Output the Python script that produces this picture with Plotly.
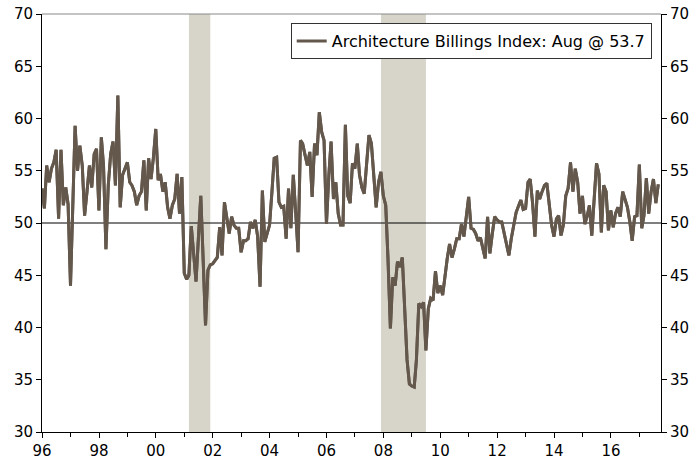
import pandas as pd
import plotly.graph_objects as go

# Architecture Billings Index, monthly (month-end), Dec 1995 - Aug 2017
abi_1995_1999 = [
    53.3, 51.4, 55.5, 53.9, 55.2, 55.8, 57.0, 50.4, 57.0, 51.7, 53.4, 51.8,
    44.0, 51.5, 59.3, 55.0, 57.4, 55.5, 50.7, 53.0, 55.5, 53.4, 56.6, 57.1,
    51.2, 58.2, 55.5, 47.5, 53.6, 56.6, 57.8, 53.6, 62.2, 51.5, 54.6, 55.2,
    55.8, 53.9, 53.6, 53.0, 51.7, 52.6, 53.0, 56.0, 51.2, 56.2, 54.2, 56.2,
]
abi_2000_2004 = [
    59.0, 54.1, 54.7, 53.0, 53.9, 51.5, 50.4, 51.7, 52.3, 54.7, 50.9, 54.4,
    45.2, 44.6, 45.0, 49.7, 47.0, 44.4, 48.5, 52.6, 46.4, 40.2, 45.5, 46.0,
    46.1, 46.4, 46.7, 49.6, 46.9, 52.0, 50.5, 49.0, 50.6, 49.8, 49.5, 49.5,
    47.2, 48.3, 48.3, 48.5, 50.1, 49.5, 50.3, 48.7, 43.9, 53.1, 48.2, 49.0,
    49.8, 53.0, 56.2, 56.3, 52.0, 51.5, 51.6, 48.5, 53.3, 49.5, 54.6, 51.1,
]
abi_2005_2009 = [
    47.2, 57.9, 57.6, 56.5, 55.5, 56.8, 52.5, 57.6, 56.5, 60.6, 58.7, 57.9,
    49.9, 54.6, 57.8, 52.3, 53.9, 50.9, 49.8, 49.8, 59.4, 52.6, 51.9, 55.7,
    55.2, 57.6, 54.6, 53.4, 52.8, 55.7, 58.4, 57.6, 54.2, 51.5, 53.9, 54.9,
    52.6, 51.7, 46.6, 39.9, 44.8, 44.0, 46.3, 45.8, 46.7, 42.0, 36.9, 34.6,
    34.4, 34.3, 36.9, 42.3, 42.0, 42.4, 37.8, 41.8, 42.8, 42.6, 45.4, 43.3,
]
abi_2010_2014 = [
    44.0, 43.1, 45.0, 46.6, 48.0, 46.7, 47.5, 48.5, 48.5, 49.9, 48.7, 50.5,
    52.5, 49.5, 49.4, 49.0, 48.3, 48.6, 47.5, 46.6, 50.6, 47.1, 49.0, 50.6,
    50.3, 50.1, 50.1, 48.9, 48.0, 46.9, 48.5, 49.7, 51.0, 51.6, 52.2, 51.3,
    51.4, 53.9, 54.2, 51.9, 48.7, 53.1, 52.3, 53.0, 53.6, 53.8, 51.4, 49.8,
    48.7, 50.4, 50.7, 48.8, 49.8, 52.6, 53.3, 55.8, 53.0, 55.2, 53.9, 50.9,
]
abi_2015_2017 = [
    52.6, 49.9, 50.6, 51.7, 48.8, 52.2, 55.7, 54.7, 49.1, 53.6, 53.0, 49.3,
    51.2, 49.6, 50.9, 51.5, 50.6, 53.0, 52.3, 51.5, 50.1, 48.3, 50.6, 50.7,
    55.6, 49.5, 50.7, 54.3, 50.9, 53.0, 54.2, 51.9, 53.7,
]

recessions = [("2001-03-01", "2001-11-30"), ("2007-12-01", "2009-06-30")]
y_ticks = [30, 35, 40, 45, 50, 55, 60, 65, 70]
legend_name = "Architecture Billings Index: Aug @ 53.7"

abi = abi_1995_1999 + abi_2000_2004 + abi_2005_2009 + abi_2010_2014 + abi_2015_2017
dates = pd.date_range("1995-12-31", periods=len(abi), freq="ME")

line_col = "#64584C"
shade_col = "#D7D4C9"

fig = go.Figure()

# recession bars
for start, end in recessions:
    fig.add_vrect(x0=start, x1=end, fillcolor=shade_col, opacity=1,
                  line_width=0, layer="below")

# 50 line
fig.add_hline(y=50, line_color="black", line_width=1, layer="below")

fig.add_trace(go.Scatter(
    x=dates, y=abi, name=legend_name, mode="lines",
    line=dict(color=line_col, width=3),
))
# copy on right axis so it is drawn
fig.add_trace(go.Scatter(
    x=dates, y=abi, mode="lines", yaxis="y2", showlegend=False,
    line=dict(color=line_col, width=3), hoverinfo="skip",
))

# gray top frame
fig.add_shape(type="line", xref="paper", yref="paper", x0=0, x1=1, y0=1, y1=1,
              line=dict(color="#888888", width=1))

yax = dict(range=[30, 70], tickvals=y_ticks, showline=True, linecolor="black",
           linewidth=1, ticks="outside", ticklen=5, tickcolor="black",
           showgrid=False, zeroline=False, automargin=False,
           tickfont=dict(size=15, color="black"))

fig.update_layout(
    width=696, height=463,
    margin=dict(l=42, r=35, t=14, b=31, autoexpand=False),
    paper_bgcolor="white", plot_bgcolor="white",
    font=dict(family="DejaVu Sans, Verdana, sans-serif", size=15, color="black"),
    showlegend=True,
    legend=dict(x=0.985, y=0.978, xanchor="right", yanchor="top",
                bgcolor="white", bordercolor="#333333", borderwidth=1,
                font=dict(size=16), itemwidth=30),
    xaxis=dict(type="date", range=["1995-12-31", "2017-10-05"],
               tick0="1996-01-01", dtick="M24", tickformat="%y",
               showline=True, linecolor="black", linewidth=1,
               ticks="outside", ticklen=5, tickcolor="black",
               showgrid=False, zeroline=False, automargin=False,
               tickfont=dict(size=15, color="black"),
               minor=dict(tick0="1996-01-01", dtick="M12", ticks="outside",
                          ticklen=4, tickcolor="black", showgrid=False)),
    yaxis=yax,
    yaxis2=dict(yax, overlaying="y", side="right"),
)

fig.write_html("out.html", config={"displayModeBar": False},
               post_script="document.body.style.margin='0';")
